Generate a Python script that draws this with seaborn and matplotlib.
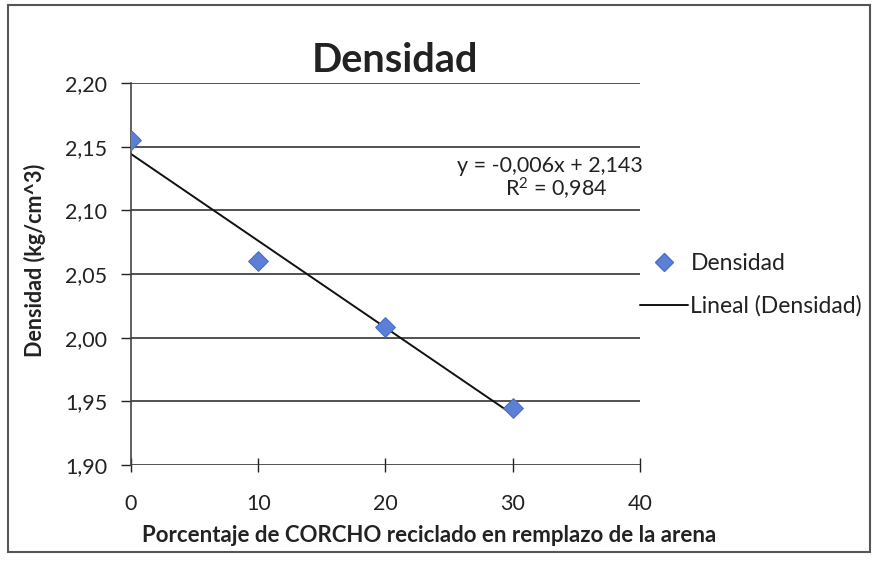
import numpy as np
import pandas as pd
import matplotlib
matplotlib.use("Agg")
import matplotlib.pyplot as plt
import seaborn as sns
from matplotlib.lines import Line2D
from matplotlib.patches import Rectangle

# Data
porcentaje = [0, 10, 20, 30]
densidad = [2.155, 2.060, 2.008, 1.945]
y_ticks = [1.90, 1.95, 2.00, 2.05, 2.10, 2.15, 2.20]
x_ticks = [0, 10, 20, 30, 40]
titulo = "Densidad"
x_label = "Porcentaje de CORCHO reciclado en remplazo de la arena"
y_label = "Densidad (kg/cm^3)"
ecuacion = "y = -0,006x + 2,143"
r2_text = "R$^{2}$ = 0,984"

df = pd.DataFrame({"x": porcentaje, "y": densidad})

sns.set_theme(style="white")
plt.rcParams['font.family'] = ['Lato', 'DejaVu Sans']
plt.rcParams['mathtext.default'] = 'regular'

fig = plt.figure(figsize=(8.76, 5.61), dpi=100)
ax = fig.add_axes([0.1495, 0.1711, 0.7306 - 0.1495, 0.852 - 0.1711])

# grid lines
for yt in y_ticks:
    ax.axhline(yt, color="#333333", lw=1.2, zorder=1)

sns.regplot(data=df, x="x", y="y", ax=ax, scatter=False, ci=None,
            line_kws=dict(color="#111111", lw=1.4, zorder=2), truncate=True)
sns.scatterplot(data=df, x="x", y="y", ax=ax, marker="D", s=100,
                color="#5B80D8", edgecolor="#4A6FC4", linewidth=0.8, zorder=3)

ax.set_xlim(0, 40)
ax.set_ylim(1.90, 2.20)
ax.set_xticks(x_ticks)
ax.set_yticks(y_ticks)
ax.set_xticklabels([str(v) for v in x_ticks])
ax.set_yticklabels([f"{v:.2f}".replace(".", ",") for v in y_ticks])
ax.tick_params(axis="both", labelsize=15.5, colors="#222222", length=5, width=1)
ax.tick_params(axis="x", direction="inout", length=10, pad=16)
ax.tick_params(axis="y", direction="out", length=7, pad=10)
ax.yaxis.set_ticks_position("left")
ax.xaxis.set_ticks_position("bottom")
for s in ["top", "right", "bottom"]:
    ax.spines[s].set_visible(False)
ax.spines["left"].set_color("#444444")
ax.spines["left"].set_linewidth(1.2)

ax.set_xlabel(x_label, fontsize=16, fontweight="bold", color="#222222", labelpad=8)
ax.xaxis.label.set_x(0.585)
ax.set_ylabel(y_label, fontsize=15.5, fontweight="bold", color="#222222", labelpad=14)
ax.yaxis.label.set_y(0.535)
ax.set_title(titulo, fontsize=28.5, fontweight="bold", color="#222222", pad=8, x=0.518)

ax.text(1.005, 2.1345, ecuacion, ha="right", va="center", fontsize=15.5,
        color="#222222", transform=ax.get_yaxis_transform())
ax.text(0.835, 2.1165, r2_text, ha="center", va="center", fontsize=15.5,
        color="#222222", transform=ax.get_yaxis_transform())

handles = [
    Line2D([], [], marker="D", linestyle="none", markersize=9,
           markerfacecolor="#5B80D8", markeredgecolor="#4A6FC4", label="Densidad"),
    Line2D([], [], color="#111111", lw=1.4, label="Lineal (Densidad)"),
]
fig.legend(handles=handles, loc="center left", bbox_to_anchor=(0.7306, 0.492),
           frameon=False, fontsize=16.5, handlelength=2.1, handletextpad=0.1,
           labelspacing=0.9, borderpad=0, borderaxespad=0, labelcolor="#222222")

fig.patches.append(Rectangle((0.009, 0.016), 0.984, 0.975, transform=fig.transFigure,
                             fill=False, edgecolor="#555555", lw=1.5))

fig.savefig("out.png", dpi=100)
